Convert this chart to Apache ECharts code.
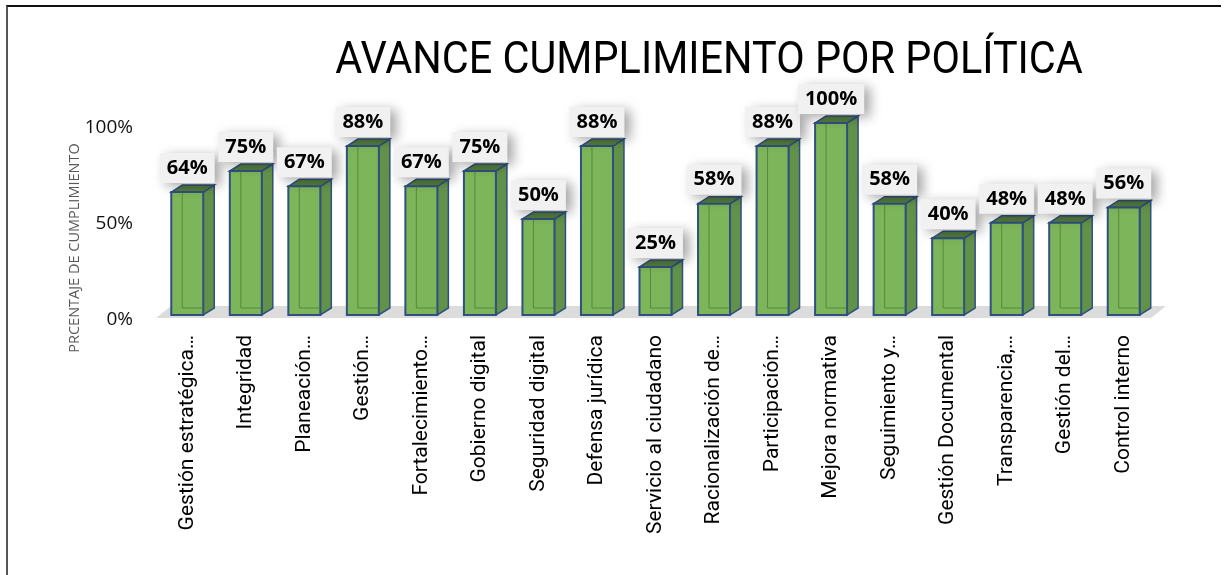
<!DOCTYPE html>
<html>
<head>
<meta charset="utf-8">
<script src="https://cdn.jsdelivr.net/npm/echarts@6/dist/echarts.min.js"></script>
<style>
  html, body { margin: 0; padding: 0; background: #fff; }
  #frame {
    position: absolute; left: 6px; top: 5px; width: 1215px; height: 575px;
    border-left: 2px solid #555; border-top: 2px solid #111; box-sizing: border-box;
  }
  #chart { position: absolute; left: 0; top: 0; width: 1231px; height: 575px; }
</style>
</head>
<body>
<div id="frame"></div>
<div id="chart"></div>
<script>
// categorías (texto tal como aparece, truncado)
const categorias = [
  'Gestión estratégica…', 'Integridad', 'Planeación…', 'Gestión…',
  'Fortalecimiento…', 'Gobierno digital', 'Seguridad digital', 'Defensa jurídica',
  'Servicio al ciudadano', 'Racionalización de…', 'Participación…', 'Mejora normativa',
  'Seguimiento y…', 'Gestión Documental', 'Transparencia,…', 'Gestión del…', 'Control interno'
]
// porcentaje de cumplimiento
const avance = [64, 75, 67, 88, 67, 75, 50, 88, 25, 58, 88, 100, 58, 40, 48, 48, 56]
const ticksY = [0, 50, 100]

const chart = echarts.init(document.getElementById('chart'))

// medidas del efecto 3D
const FRONT_W = 32
const DX = 11
const DY = 7

function renderBar(params, api) {
  const idx = api.value(0)
  const val = api.value(1)
  const top = api.coord([idx, val])
  const base = api.coord([idx, 0])
  // la cara frontal queda centrada en la categoría
  const x = top[0] - FRONT_W / 2
  const y = top[1]
  const b = base[1]
  const w = FRONT_W
  return {
    type: 'group',
    children: [
      // cara lateral
      {
        type: 'polygon',
        shape: { points: [[x + w, y], [x + w + DX, y - DY], [x + w + DX, b - DY], [x + w, b]] },
        style: { fill: '#62924a', stroke: '#2f5080', lineWidth: 1.5 }
      },
      // cara superior
      {
        type: 'polygon',
        shape: { points: [[x, y], [x + DX, y - DY], [x + w + DX, y - DY], [x + w, y]] },
        style: { fill: '#557d3e', stroke: '#2f5080', lineWidth: 1.5 }
      },
      // cara frontal
      {
        type: 'rect',
        shape: { x: x, y: y, width: w, height: b - y },
        style: { fill: '#7db55a', stroke: '#2f5080', lineWidth: 2 }
      },
      // aristas traseras vistas por transparencia
      {
        type: 'polyline',
        shape: { points: [[x + DX, y], [x + DX, b - DY], [x + w, b - DY]] },
        style: { fill: null, stroke: 'rgba(70,120,50,0.7)', lineWidth: 1 }
      },
      // etiqueta de valor
      {
        type: 'text',
        x: x + w / 2,
        y: y - 24,
        style: {
          text: val + '%',
          font: 'bold 20px "Open Sans", sans-serif',
          fill: '#000',
          align: 'center',
          verticalAlign: 'middle',
          backgroundColor: '#f1f1f1',
          padding: [5, 7, 5, 7],
          shadowBlur: 12,
          shadowColor: 'rgba(0,0,0,0.35)',
          shadowOffsetX: 6,
          shadowOffsetY: 3
        }
      }
    ]
  }
}

function renderFloor(params, api) {
  const cs = params.coordSys
  const yb = cs.y + cs.height + 3
  const x0 = cs.x - 2
  const x1 = cs.x + cs.width - 2
  return {
    type: 'polygon',
    shape: { points: [[x0, yb], [x0 + 15, yb - 12], [x1 + 15, yb - 12], [x1, yb]] },
    style: { fill: '#dcdcdc' },
    z2: -1
  }
}

const option = {
  animation: false,
  grid: { left: 158, right: 78, top: 123, bottom: 260 },
  xAxis: {
    type: 'category',
    data: categorias,
    axisLine: { show: false },
    axisTick: { show: false },
    axisLabel: {
      rotate: 90,
      interval: 0,
      margin: 20,
      fontFamily: 'Roboto',
      fontSize: 21,
      color: '#000'
    }
  },
  yAxis: {
    type: 'value',
    min: 0,
    max: 100,
    interval: 50,
    splitLine: { show: false },
    axisLine: { show: false },
    axisTick: { show: false },
    axisLabel: {
      margin: 25,
      verticalAlign: 'top',
      lineHeight: 10,
      fontFamily: 'Open Sans',
      fontSize: 19,
      color: '#111',
      formatter: (v) => ticksY.includes(v) ? v + '%' : ''
    }
  },
  graphic: [
    {
      type: 'text',
      x: 709,
      y: 62,
      scaleX: 0.92,
      style: {
        text: 'AVANCE CUMPLIMIENTO POR POLÍTICA',
        font: '45px Roboto, sans-serif',
        fill: '#000',
        align: 'center',
        verticalAlign: 'middle'
      }
    },
    {
      type: 'text',
      x: 75,
      y: 248,
      rotation: Math.PI / 2,
      style: {
        text: 'PRCENTAJE DE CUMPLIMIENTO',
        font: '14.5px "Open Sans", sans-serif',
        fill: '#595959',
        align: 'center',
        verticalAlign: 'middle'
      }
    }
  ],
  series: [
    {
      name: 'piso',
      type: 'custom',
      renderItem: renderFloor,
      data: [[0, 0]],
      silent: true,
      z: 1
    },
    {
      name: 'avance',
      type: 'custom',
      renderItem: renderBar,
      data: avance.map((v, i) => [i, v]),
      encode: { x: 0, y: 1 },
      z: 2
    }
  ]
}

chart.setOption(option)
</script>
</body>
</html>
